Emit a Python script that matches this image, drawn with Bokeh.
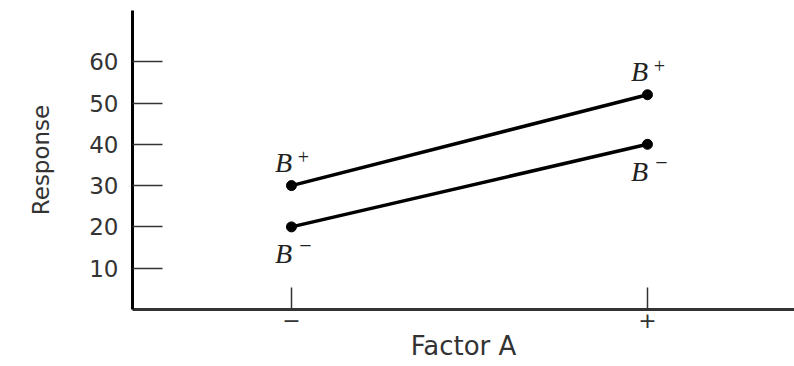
from bokeh.plotting import figure
from bokeh.models import FixedTicker, Range1d
from bokeh.core.properties import value
from bokeh.embed import file_html
from bokeh.resources import INLINE

# Data
factor_a = [-1, 1]
factor_a_labels = ["\u2212", "+"]
b_plus = [30, 52]
b_minus = [20, 40]
y_ticks = [10, 20, 30, 40, 50, 60]
b_plus_text = ["B", "B"]
b_minus_text = ["B", "B"]
sup_plus = ["+", "+"]
sup_minus = ["\u2212", "\u2212"]

p = figure(width=794, height=366, output_backend="svg", toolbar_location=None,
           x_range=Range1d(-1.893, 1.826), y_range=Range1d(0, 72.4),
           min_border_left=132, min_border_right=0, min_border_top=10,
           min_border_bottom=57)
p.grid.visible = False
p.outline_line_color = None

# Y axis
ya = p.yaxis[0]
ya.ticker = FixedTicker(ticks=y_ticks)
ya.axis_line_width = 3
ya.axis_line_color = "black"
ya.major_tick_in = 30
ya.major_tick_out = 0
ya.major_tick_line_width = 1.5
ya.major_tick_line_color = "#333333"
ya.minor_tick_line_color = None
ya.major_label_text_font = "DejaVu Sans"
ya.major_label_text_font_size = "23px"
ya.major_label_text_color = "#333333"
ya.major_label_standoff = 14
ya.axis_label = "Response"
ya.axis_label_text_font = "DejaVu Sans"
ya.axis_label_text_font_style = "normal"
ya.axis_label_text_font_size = "23px"
ya.axis_label_text_color = "#333333"
ya.axis_label_standoff = 32

# X axis
xa = p.xaxis[0]
xa.ticker = FixedTicker(ticks=factor_a)
xa.major_label_overrides = {factor_a[i]: factor_a_labels[i] for i in range(2)}
xa.axis_line_width = 3
xa.axis_line_color = "#333333"
xa.major_tick_in = 22
xa.major_tick_out = 0
xa.major_tick_line_width = 1.5
xa.major_tick_line_color = "#333333"
xa.minor_tick_line_color = None
xa.major_label_text_font = "DejaVu Sans"
xa.major_label_text_font_size = "22px"
xa.major_label_text_color = "#333333"
xa.major_label_standoff = 2
xa.axis_label = "Factor A"
xa.axis_label_text_font = "DejaVu Sans"
xa.axis_label_text_font_style = "normal"
xa.axis_label_text_font_size = "26px"
xa.axis_label_text_color = "#333333"
xa.axis_label_standoff = 0

# Lines and points
for ys in (b_plus, b_minus):
    p.line(factor_a, ys, line_width=3.5, line_color="black")
    p.scatter(factor_a, ys, size=10, fill_color="black", line_color="black")

# Labels
serif = value("Liberation Serif")
p.text(x=factor_a, y=b_plus, text=b_plus_text, x_offset=-8, y_offset=-23,
       text_font=serif, text_font_style="italic", text_font_size="28px",
       text_align="center", text_baseline="middle", text_color="#222222")
p.text(x=factor_a, y=b_plus, text=sup_plus, x_offset=12, y_offset=-29,
       text_font=serif, text_font_size="20px",
       text_align="center", text_baseline="middle", text_color="#222222")
p.text(x=factor_a, y=b_minus, text=b_minus_text, x_offset=-8, y_offset=27,
       text_font=serif, text_font_style="italic", text_font_size="28px",
       text_align="center", text_baseline="middle", text_color="#222222")
p.text(x=factor_a, y=b_minus, text=sup_minus, x_offset=14, y_offset=19,
       text_font=serif, text_font_size="22px",
       text_align="center", text_baseline="middle", text_color="#222222")

open("out.html", "w").write(file_html(p, INLINE))
